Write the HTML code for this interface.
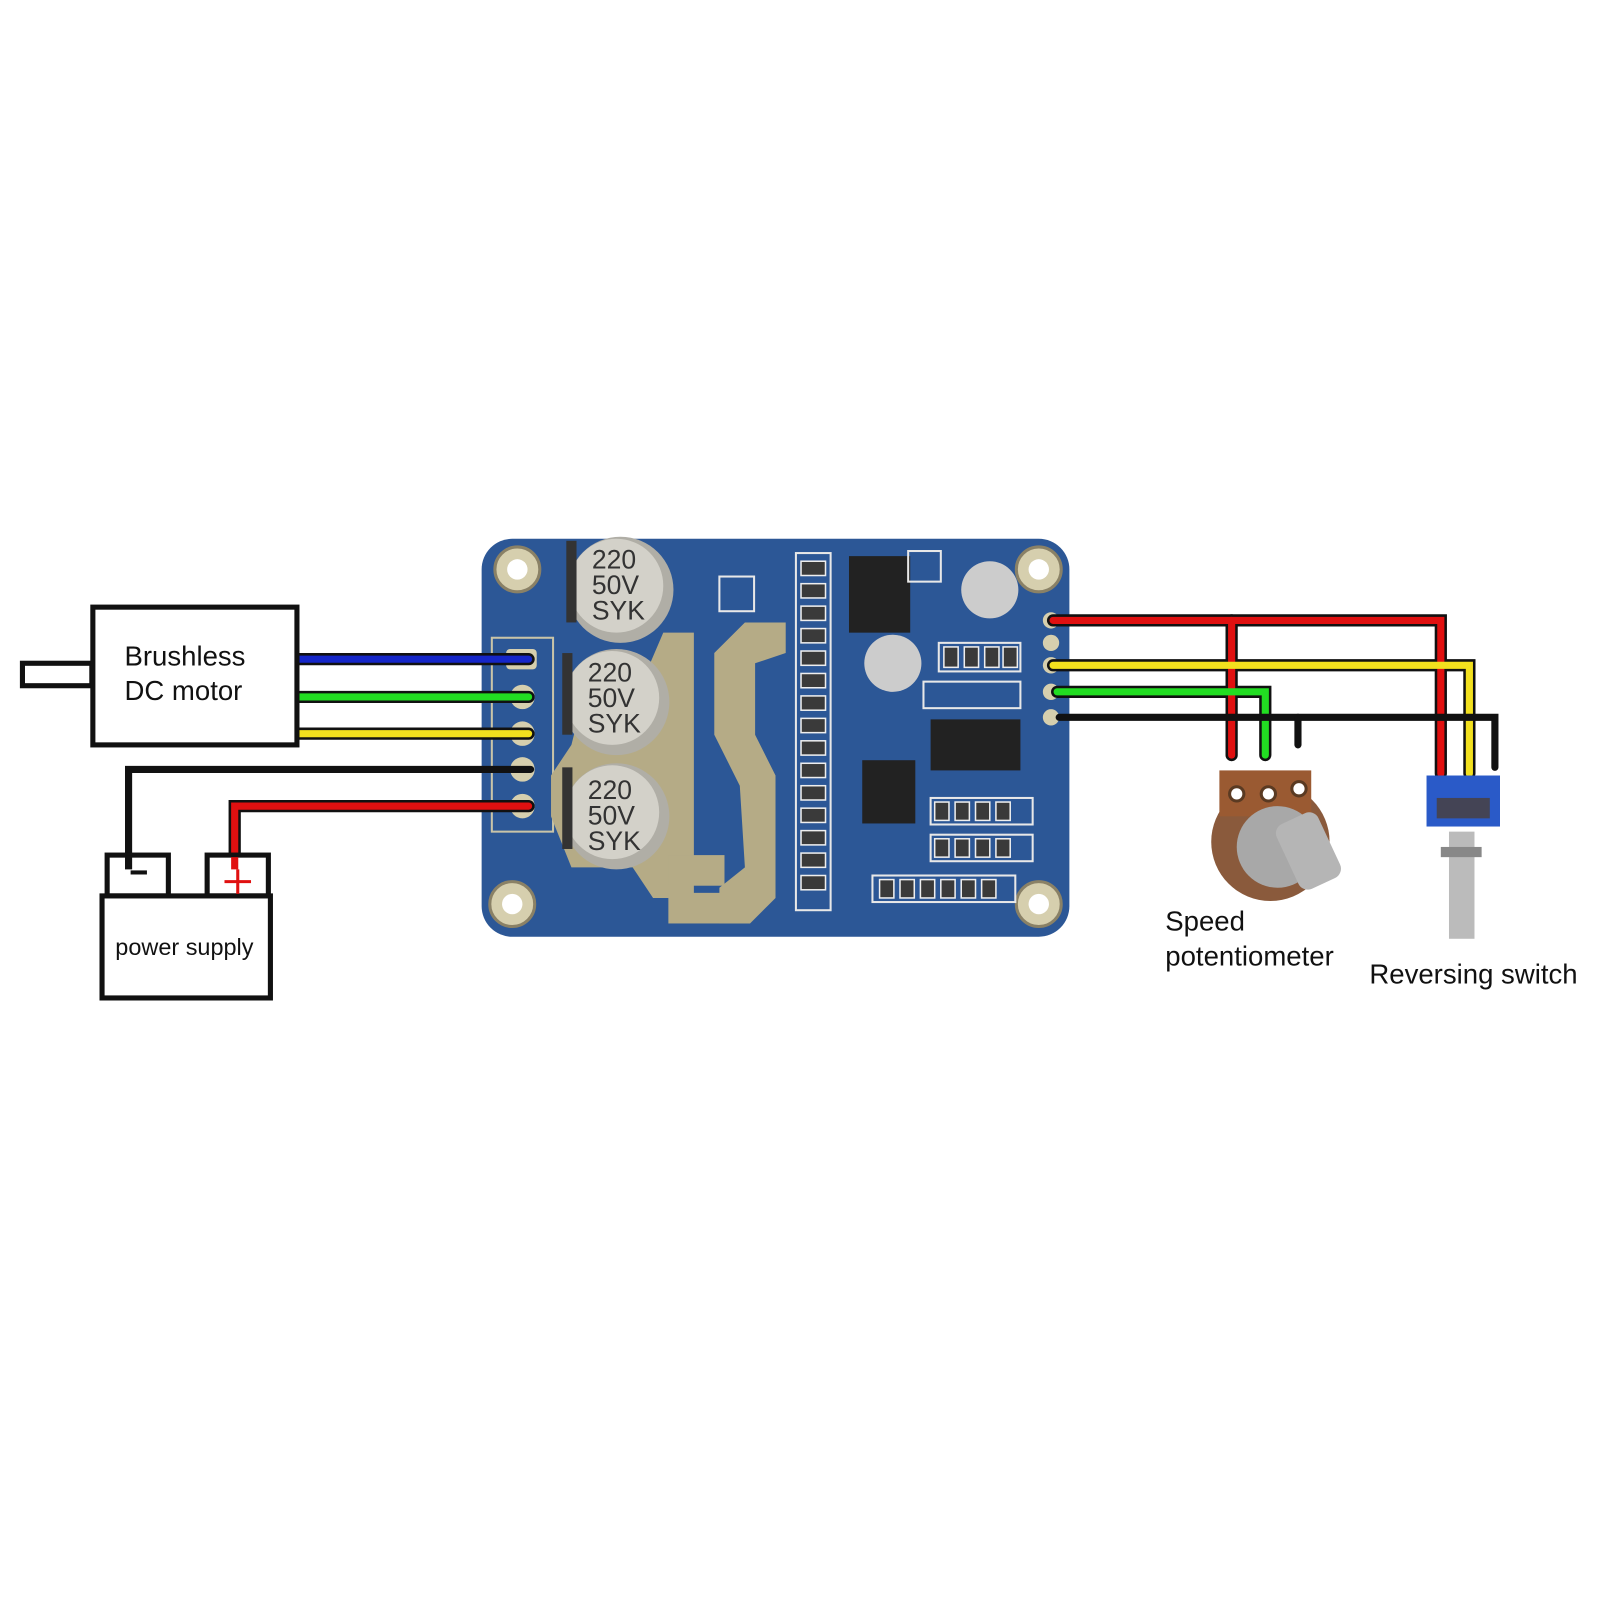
<!DOCTYPE html>
<html><head><meta charset="utf-8"><style>html,body{margin:0;padding:0;background:#fff}svg{display:block}</style></head>
<body>
<svg width="1600" height="1600" viewBox="0 0 1568 1568" xmlns="http://www.w3.org/2000/svg" font-family="'Liberation Sans', sans-serif">
<rect width="1568" height="1568" fill="#fff"/>
<!-- board -->
<rect x="472" y="528" width="576" height="390" rx="30" fill="#2c5796"/>
<rect x="482" y="625" width="60" height="190" fill="none" stroke="#c9c4a8" stroke-width="2"/>
<g fill="#b5ab86">
<path d="M540 760 L560 730 L570 690 L620 690 L650 620 L680 620 L680 880 L640 880 L620 850 L560 850 L540 800Z"/>
<path d="M700 640 L730 610 L770 610 L770 640 L740 650 L740 720 L760 760 L760 880 L735 905 L705 905 L705 870 L730 850 L725 770 L700 720Z"/>
<rect x="655" y="838" width="55" height="30"/><rect x="655" y="875" width="55" height="30"/>
</g>
<g fill="#d6cfae" stroke="#8a8166" stroke-width="3">
<circle cx="507" cy="558" r="22"/><circle cx="1018" cy="558" r="22"/>
<circle cx="502" cy="886" r="22"/><circle cx="1018" cy="886" r="22"/>
</g>
<g fill="#fff"><circle cx="507" cy="558" r="10"/><circle cx="1018" cy="558" r="10"/><circle cx="502" cy="886" r="10"/><circle cx="1018" cy="886" r="10"/></g>
<g fill="#d6cfae"><rect x="496" y="636" width="30" height="20" rx="4"/><circle cx="512" cy="683" r="12"/><circle cx="512" cy="719" r="12"/><circle cx="512" cy="754" r="12"/><circle cx="512" cy="790" r="12"/>
<circle cx="1030" cy="608" r="8"/><circle cx="1030" cy="630" r="8"/><circle cx="1030" cy="652" r="8"/><circle cx="1030" cy="678" r="8"/><circle cx="1030" cy="703" r="8"/></g>
<!-- capacitors -->
<g>
<circle cx="608" cy="578" r="52" fill="#b0aea6"/><circle cx="604" cy="574" r="46" fill="#d3d1c9"/>
<circle cx="604" cy="688" r="52" fill="#b0aea6"/><circle cx="600" cy="684" r="46" fill="#d3d1c9"/>
<circle cx="604" cy="800" r="52" fill="#b0aea6"/><circle cx="600" cy="796" r="46" fill="#d3d1c9"/>
<rect x="555" y="530" width="10" height="80" fill="#333"/><rect x="551" y="640" width="10" height="80" fill="#333"/><rect x="551" y="752" width="10" height="80" fill="#333"/>
</g>
<g font-size="26" fill="#333" font-family="'Liberation Sans',sans-serif">
<text x="580" y="557">220</text><text x="580" y="582">50V</text><text x="580" y="607">SYK</text>
<text x="576" y="668">220</text><text x="576" y="693">50V</text><text x="576" y="718">SYK</text>
<text x="576" y="783">220</text><text x="576" y="808">50V</text><text x="576" y="833">SYK</text>
</g>
<!-- chips -->
<rect x="832" y="545" width="60" height="75" fill="#222"/>
<rect x="912" y="705" width="88" height="50" fill="#222"/>
<rect x="845" y="745" width="52" height="62" fill="#222"/>
<circle cx="970" cy="578" r="28" fill="#ccc"/><circle cx="875" cy="650" r="28" fill="#ccc"/>
<g fill="none" stroke="#e8e8e8" stroke-width="2">
<rect x="780" y="542" width="34" height="350"/>
<rect x="920" y="630" width="80" height="28"/><rect x="905" y="668" width="95" height="26"/>
<rect x="912" y="782" width="100" height="26"/><rect x="912" y="818" width="100" height="26"/><rect x="855" y="858" width="140" height="26"/>
<rect x="705" y="565" width="34" height="34"/><rect x="890" y="540" width="32" height="30"/>
</g>
<g fill="#3a3a3a" stroke="#eee" stroke-width="1.5">
<rect x="785" y="550" width="24" height="14"/><rect x="785" y="572" width="24" height="14"/><rect x="785" y="594" width="24" height="14"/><rect x="785" y="616" width="24" height="14"/><rect x="785" y="638" width="24" height="14"/><rect x="785" y="660" width="24" height="14"/><rect x="785" y="682" width="24" height="14"/><rect x="785" y="704" width="24" height="14"/><rect x="785" y="726" width="24" height="14"/><rect x="785" y="748" width="24" height="14"/><rect x="785" y="770" width="24" height="14"/><rect x="785" y="792" width="24" height="14"/><rect x="785" y="814" width="24" height="14"/><rect x="785" y="836" width="24" height="14"/><rect x="785" y="858" width="24" height="14"/>
<rect x="925" y="634" width="14" height="20"/><rect x="945" y="634" width="14" height="20"/><rect x="965" y="634" width="14" height="20"/><rect x="983" y="634" width="14" height="20"/>
<rect x="916" y="786" width="14" height="18"/><rect x="936" y="786" width="14" height="18"/><rect x="956" y="786" width="14" height="18"/><rect x="976" y="786" width="14" height="18"/>
<rect x="916" y="822" width="14" height="18"/><rect x="936" y="822" width="14" height="18"/><rect x="956" y="822" width="14" height="18"/><rect x="976" y="822" width="14" height="18"/>
<rect x="862" y="862" width="14" height="18"/><rect x="882" y="862" width="14" height="18"/><rect x="902" y="862" width="14" height="18"/><rect x="922" y="862" width="14" height="18"/><rect x="942" y="862" width="14" height="18"/><rect x="962" y="862" width="14" height="18"/>
</g>
<!-- wires -->
<g fill="none" stroke-linejoin="miter" stroke-linecap="round">
<g stroke="#111" stroke-width="12">
<path d="M292 646H518"/><path d="M292 683H518"/><path d="M292 719H518"/><path d="M230 870V790H518"/>
<path d="M1032 608H1412V758"/><path d="M1207 608V740"/><path d="M1032 652H1440V758"/><path d="M1036 678H1240V740"/>
</g>
<g stroke-width="7">
<path d="M292 646H518" stroke="#1526c8"/><path d="M292 683H518" stroke="#22dd22"/><path d="M292 719H518" stroke="#f2e01e"/>
<path d="M230 870V790H518" stroke="#e01010"/>
<path d="M1207 608V740" stroke="#e01010"/><path d="M1032 608H1412V758" stroke="#e01010"/>
<path d="M1032 652H1440V758" stroke="#f2e01e"/><path d="M1036 678H1240V740" stroke="#22dd22"/>
</g>
<g stroke="#111" stroke-width="7">
<path d="M520 754H126V840"/><path d="M1038 703H1465V752"/><path d="M1272 703V730"/>
</g>
</g>
<!-- motor -->
<rect x="22" y="650" width="68" height="22" fill="#fff" stroke="#111" stroke-width="5"/>
<rect x="91" y="595" width="200" height="135" fill="#fff" stroke="#111" stroke-width="5"/>
<text x="122" y="652" font-size="27" fill="#111">Brushless</text>
<text x="122" y="686" font-size="27" fill="#111">DC motor</text>
<!-- power supply -->
<rect x="105" y="838" width="60" height="40" fill="#fff" stroke="#111" stroke-width="5"/>
<rect x="203" y="838" width="60" height="40" fill="#fff" stroke="#111" stroke-width="5"/>
<rect x="100" y="878" width="165" height="100" fill="#fff" stroke="#111" stroke-width="5"/>
<path d="M126 838V852" stroke="#111" stroke-width="7"/>
<rect x="128" y="853" width="16" height="4" fill="#111"/>
<path d="M230 840V852" stroke="#e01010" stroke-width="7"/>
<path d="M220 864H246M233 852V876" stroke="#e01010" stroke-width="3"/>
<text x="113" y="936" font-size="23" fill="#111">power supply</text>
<!-- potentiometer -->
<circle cx="1245" cy="825" r="58" fill="#8a5a3c"/>
<rect x="1195" y="755" width="90" height="45" fill="#9a5a32"/>
<g fill="#fff" stroke="#5a3a22" stroke-width="3"><circle cx="1212" cy="778" r="7"/><circle cx="1243" cy="778" r="7"/><circle cx="1273" cy="773" r="7"/></g>
<circle cx="1252" cy="830" r="40" fill="#a8a8a8"/>
<rect x="1260" y="800" width="45" height="70" rx="10" fill="#b5b5b5" transform="rotate(-25 1280 835)"/>
<!-- switch -->
<rect x="1420" y="815" width="25" height="105" fill="#bbb"/>
<rect x="1412" y="830" width="40" height="10" fill="#888"/>
<rect x="1398" y="760" width="72" height="50" fill="#2a5ac8"/>
<rect x="1408" y="782" width="52" height="20" fill="#445"/>
<!-- labels -->
<text x="1142" y="912" font-size="27" fill="#111">Speed</text>
<text x="1142" y="946" font-size="27" fill="#111">potentiometer</text>
<text x="1342" y="964" font-size="27" fill="#111">Reversing switch</text>
</svg>
</body></html>
